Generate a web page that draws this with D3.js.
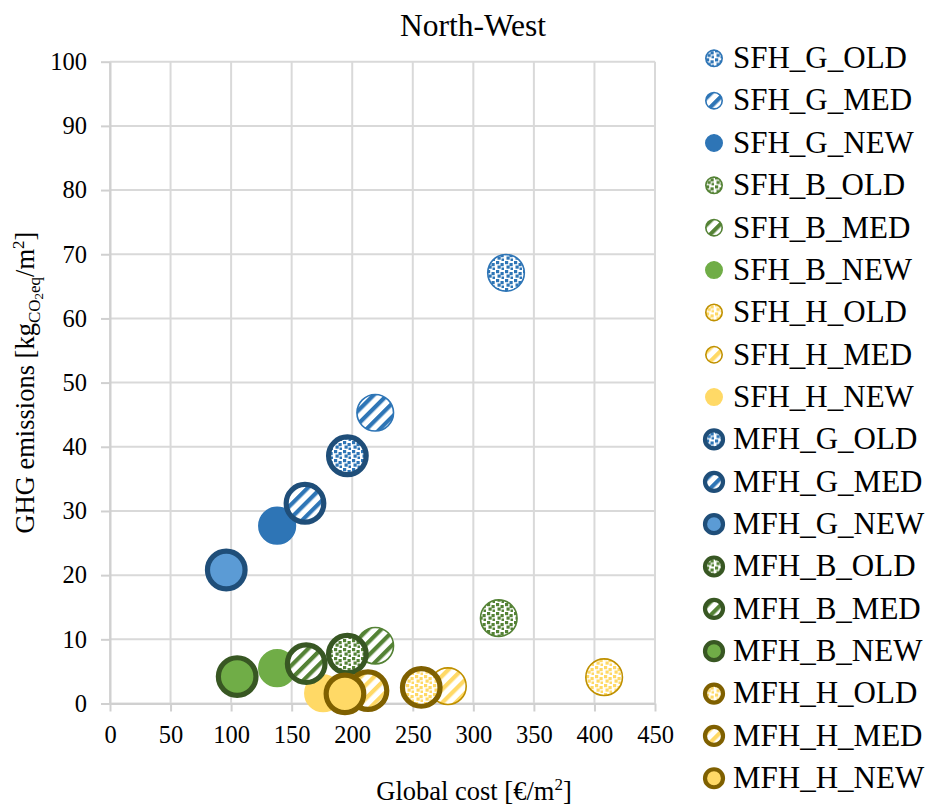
<!DOCTYPE html>
<html>
<head>
<meta charset="utf-8">
<script src="https://cdn.jsdelivr.net/npm/d3@7"></script>
<style>
  html, body { margin: 0; padding: 0; background: #fff; }
  svg { display: block; font-family: "Liberation Serif", "Times New Roman", serif; }
</style>
</head>
<body>
<svg id="chart" width="929" height="805"></svg>
<script>
// Scenarios: building type (SFH/MFH), heating (G/B/H), vintage (OLD/MED/NEW)
const series = [
  "SFH_G_OLD", "SFH_G_MED", "SFH_G_NEW",
  "SFH_B_OLD", "SFH_B_MED", "SFH_B_NEW",
  "SFH_H_OLD", "SFH_H_MED", "SFH_H_NEW",
  "MFH_G_OLD", "MFH_G_MED", "MFH_G_NEW",
  "MFH_B_OLD", "MFH_B_MED", "MFH_B_NEW",
  "MFH_H_OLD", "MFH_H_MED", "MFH_H_NEW"
];
// Global cost [€/m²]
const globalCost = [
  327, 219, 138,
  321, 219, 138,
  408, 279, 176,
  196, 161, 96,
  196, 162, 105,
  257, 213, 194
];
// GHG emissions [kgCO2eq/m²]
const ghgEmissions = [
  67.1, 45.3, 27.7,
  13.3, 9.0, 5.5,
  4.1, 2.7, 1.6,
  38.6, 31.2, 20.8,
  7.7, 6.2, 4.2,
  2.5, 2.0, 1.5
];
const xTicks = [0, 50, 100, 150, 200, 250, 300, 350, 400, 450];
const yTicks = [0, 10, 20, 30, 40, 50, 60, 70, 80, 90, 100];

const svg = d3.select("#chart");
const plotLeft = 110, plotRight = 655, plotTop = 61.7, plotBottom = 703.5;

const x = d3.scaleLinear().domain([0, 450]).range([plotLeft, plotRight]);
const y = d3.scaleLinear().domain([0, 100]).range([plotBottom, plotTop]);

// Palette per heating system
const base = { G: "#2E75B6", B: "#548235", H: "#FFD966" };
const solid = { G: "#2E75B6", B: "#70AD47", H: "#FFD966" };
const thinEdge = { G: "#2E75B6", B: "#548235", H: "#BF9000" };
const mfhEdge = { G: "#1F4E79", B: "#385723", H: "#7F6000" };
const mfhSolid = { G: "#5B9BD5", B: "#70AD47", H: "#FFD966" };

const defs = svg.append("defs");
Object.keys(base).forEach(k => {
  // confetti squares
  const sq = defs.append("pattern")
    .attr("id", "sq" + k).attr("patternUnits", "userSpaceOnUse")
    .attr("width", 9).attr("height", 9);
  sq.append("rect").attr("width", 9).attr("height", 9).attr("fill", "#fff");
  [[1, 0], [5.5, 2], [2.5, 4.5], [6.5, 6.5]].forEach(p => {
    sq.append("rect").attr("x", p[0]).attr("y", p[1]).attr("width", 3.2).attr("height", 3.2).attr("fill", base[k]);
  });
  // wide upward diagonal stripes
  const st = defs.append("pattern")
    .attr("id", "st" + k).attr("patternUnits", "userSpaceOnUse")
    .attr("width", 9.5).attr("height", 9.5).attr("patternTransform", "rotate(45)");
  st.append("rect").attr("width", 9.5).attr("height", 9.5).attr("fill", "#fff");
  st.append("rect").attr("width", 4.2).attr("height", 9.5).attr("fill", base[k]);
});

function style(name) {
  const [bt, hs, age] = name.split("_");
  const fill = age === "OLD" ? `url(#sq${hs})` : age === "MED" ? `url(#st${hs})` : (bt === "MFH" ? mfhSolid[hs] : solid[hs]);
  const edge = bt === "MFH" ? mfhEdge[hs] : (age === "NEW" ? solid[hs] : thinEdge[hs]);
  return { fill, edge, mfh: bt === "MFH" };
}

// Gridlines
const grid = svg.append("g").attr("stroke", "#d9d9d9").attr("stroke-width", 2);
grid.selectAll("line.h").data(yTicks).join("line").attr("class", "h")
  .attr("x1", plotLeft).attr("x2", plotRight).attr("y1", d => y(d)).attr("y2", d => y(d));
grid.selectAll("line.v").data(xTicks).join("line").attr("class", "v")
  .attr("y1", plotTop).attr("y2", plotBottom).attr("x1", d => x(d)).attr("x2", d => x(d));

// Axes
const xAxis = svg.append("g").attr("transform", `translate(0,${plotBottom})`)
  .call(d3.axisBottom(x).tickValues(xTicks).tickSize(8).tickPadding(14).tickSizeOuter(0).tickFormat(d3.format("d")));
const yAxis = svg.append("g").attr("transform", `translate(${plotLeft},0)`)
  .call(d3.axisLeft(y).tickValues(yTicks).tickSize(9).tickPadding(14).tickSizeOuter(0).tickFormat(d3.format("d")));
[xAxis, yAxis].forEach(a => {
  a.select(".domain").attr("stroke", "#d0d0d0").attr("stroke-width", 2);
  a.selectAll(".tick line").attr("stroke", "#d0d0d0").attr("stroke-width", 2);
  a.selectAll(".tick text").attr("fill", "#000").attr("font-size", 24.5)
    .attr("font-family", "Liberation Serif, Times New Roman, serif");
});

// Points
const pts = series.map((s, i) => ({ name: s, cost: globalCost[i], ghg: ghgEmissions[i] }));
svg.append("g").selectAll("circle").data(pts).join("circle")
  .attr("cx", d => x(d.cost)).attr("cy", d => y(d.ghg))
  .attr("r", d => style(d.name).mfh ? 18.8 : 18.3)
  .attr("fill", d => style(d.name).fill)
  .attr("stroke", d => style(d.name).edge)
  .attr("stroke-width", d => style(d.name).mfh ? 5.2 : 1.6);

// Title
svg.append("text").attr("x", 473).attr("y", 36).attr("text-anchor", "middle")
  .attr("font-size", 31.5).text("North-West");

// Axis titles
svg.append("text").attr("x", 474).attr("y", 800).attr("text-anchor", "middle")
  .attr("font-size", 26.5)
  .call(t => {
    t.append("tspan").text("Global cost [€/m");
    t.append("tspan").attr("dy", -10).attr("font-size", 17).text("2");
    t.append("tspan").attr("dy", 10).text("]");
  });

svg.append("text").attr("transform", `translate(34,${(plotTop + plotBottom) / 2}) rotate(-90)`)
  .attr("text-anchor", "middle").attr("font-size", 26.5)
  .call(t => {
    t.append("tspan").text("GHG emissions [kg");
    t.append("tspan").attr("dy", 6).attr("font-size", 17).text("CO");
    t.append("tspan").attr("dy", 3).attr("font-size", 13).text("2");
    t.append("tspan").attr("dy", -3).attr("font-size", 17).text("eq");
    t.append("tspan").attr("dy", -6).text("/m");
    t.append("tspan").attr("dy", -10).attr("font-size", 17).text("2");
    t.append("tspan").attr("dy", 10).text("]");
  });

// Legend
const leg = svg.append("g").selectAll("g").data(series).join("g")
  .attr("transform", (d, i) => `translate(714,${58.3 + i * 42.35})`);
leg.append("circle")
  .attr("r", d => style(d).mfh ? 9 : 8.2)
  .attr("fill", d => style(d).fill)
  .attr("stroke", d => style(d).edge)
  .attr("stroke-width", d => style(d).mfh ? 4.2 : 1.6);
leg.append("text").attr("x", 19).attr("y", 9.8).attr("font-size", 31).text(d => d);
</script>
</body>
</html>
